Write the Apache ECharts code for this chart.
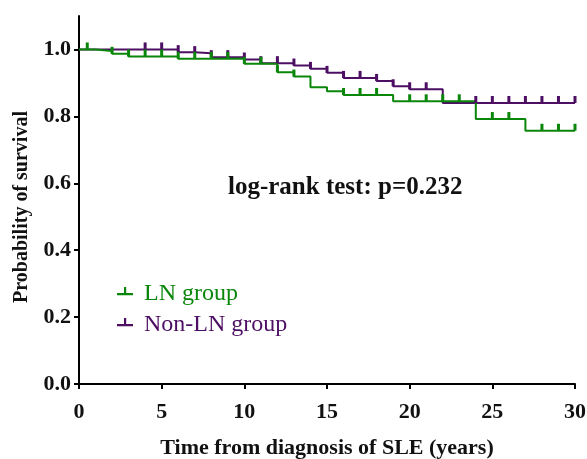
<!DOCTYPE html>
<html>
<head>
<meta charset="utf-8">
<script src="https://cdn.jsdelivr.net/npm/echarts@6/dist/echarts.min.js"></script>
<style>
  html, body { margin: 0; padding: 0; background: #ffffff; }
  #chart { width: 587px; height: 459px; }
</style>
</head>
<body>
<div id="chart"></div>
<script>
// Kaplan-Meier survival estimates (time in years, survival after each event time)
var lnTimes = [0, 1, 2, 3, 6, 10, 12, 13, 14, 15, 16, 19, 24, 27, 30];
var lnSurvival = [1.0, 0.995, 0.987, 0.979, 0.972, 0.957, 0.932, 0.919, 0.887, 0.875, 0.864, 0.845, 0.792, 0.757, 0.757];
var lnCensored = [0.5, 2, 3, 4, 5, 6, 7, 8, 9, 10, 11, 12, 13, 16, 17, 18, 20, 21, 22, 23, 25, 26, 28, 29, 30];

var nonLnTimes = [0, 6, 7, 8, 10, 11, 13, 14, 15, 16, 18, 19, 20, 22, 30];
var nonLnSurvival = [1.0, 0.992, 0.989, 0.977, 0.970, 0.959, 0.952, 0.942, 0.930, 0.915, 0.906, 0.890, 0.881, 0.840, 0.840];
var nonLnCensored = [4, 5, 6, 7, 8, 9, 10, 11, 12, 13, 14, 15, 16, 17, 18, 19, 20, 21, 24, 25, 26, 27, 28, 29, 30];

var xTicks = [0, 5, 10, 15, 20, 25, 30];
var yTicks = [0, 0.2, 0.4, 0.6, 0.8, 1.0];

var groupNames = ['LN group', 'Non-LN group'];
var lnColor = '#0a860a';
var nonLnColor = '#4d0f63';
var fontFamily = '"Liberation Serif", "Times New Roman", serif';

function stepPoints(times, surv) {
  return times.map(function (t, i) { return [t, surv[i]]; });
}

// survival value in effect at time t (step function)
function survivalAt(times, surv, t) {
  var v = surv[0];
  for (var i = 0; i < times.length; i++) {
    if (times[i] <= t) v = surv[i];
  }
  return v;
}

function censorPoints(times, surv, cens) {
  return cens.map(function (t) { return [t, survivalAt(times, surv, t)]; });
}

// inverted-T censor glyph; the tiny speck at the bottom keeps the bar vertically centred
var legendIcon = 'path://M0,6 L16,6 L16,8.2 L0,8.2 Z M7,0 L9.2,0 L9.2,6 L7,6 Z M8,13.95 L8.05,14 L8,14 Z';

var chart = echarts.init(document.getElementById('chart'), null, { renderer: 'canvas' });

chart.setOption({
  animation: false,
  backgroundColor: '#ffffff',
  grid: { left: 79, right: 12, top: 16, bottom: 75, containLabel: false, outerBoundsMode: 'none' },
  xAxis: {
    type: 'value',
    min: 0, max: 30, interval: 5,
    name: 'Time from diagnosis of SLE (years)',
    nameLocation: 'middle',
    nameGap: 53,
    nameTextStyle: { fontFamily: fontFamily, fontWeight: 'bold', fontSize: 22, color: '#111' },
    axisLine: { lineStyle: { color: '#000', width: 2 } },
    axisTick: { length: 5, lineStyle: { color: '#000', width: 2 } },
    axisLabel: {
      margin: 17, fontFamily: fontFamily, fontWeight: 'bold', fontSize: 22, color: '#111'
    },
    splitLine: { show: false }
  },
  yAxis: {
    type: 'value',
    min: 0, max: 1.1,
    axisLine: { show: true, lineStyle: { color: '#000', width: 2 } },
    axisTick: { show: true, length: 5, customValues: yTicks, lineStyle: { color: '#000', width: 2 } },
    axisLabel: {
      customValues: yTicks,
      margin: 8, fontFamily: fontFamily, fontWeight: 'bold', fontSize: 22, color: '#111',
      formatter: function (v) { return v.toFixed(1); }
    },
    splitLine: { show: false }
  },
  legend: {
    orient: 'vertical',
    left: 117, top: 282,
    padding: 0,
    itemWidth: 16, itemHeight: 14,
    itemGap: 7,
    textStyle: { fontFamily: fontFamily, fontSize: 24, padding: [0, 0, 0, 6] },
    data: [
      { name: groupNames[0], icon: legendIcon, textStyle: { color: lnColor } },
      { name: groupNames[1], icon: legendIcon, textStyle: { color: nonLnColor } }
    ]
  },
  graphic: [
    {
      type: 'text',
      left: 228, top: 175,
      style: {
        text: 'log-rank test: p=0.232',
        font: 'bold 25px ' + fontFamily,
        fill: '#111'
      }
    },
    {
      type: 'text',
      x: 22, y: 207,
      rotation: Math.PI / 2,
      style: {
        text: 'Probability of survival',
        font: 'bold 20px ' + fontFamily,
        fill: '#111',
        align: 'center',
        verticalAlign: 'middle'
      }
    }
  ],
  series: [
    {
      name: groupNames[1], type: 'line', step: 'end', showSymbol: false,
      color: nonLnColor,
      lineStyle: { color: nonLnColor, width: 2 },
      data: stepPoints(nonLnTimes, nonLnSurvival), z: 2
    },
    {
      name: groupNames[0], type: 'line', step: 'end', showSymbol: false,
      color: lnColor,
      lineStyle: { color: lnColor, width: 2 },
      data: stepPoints(lnTimes, lnSurvival), z: 3
    },
    {
      name: groupNames[1] + ' censored', type: 'scatter',
      symbol: 'rect', symbolSize: [3, 7], symbolOffset: [0, -3.5],
      itemStyle: { color: nonLnColor, opacity: 1 },
      data: censorPoints(nonLnTimes, nonLnSurvival, nonLnCensored), z: 4
    },
    {
      name: groupNames[0] + ' censored', type: 'scatter',
      symbol: 'rect', symbolSize: [3, 7], symbolOffset: [0, -3.5],
      itemStyle: { color: lnColor, opacity: 1 },
      data: censorPoints(lnTimes, lnSurvival, lnCensored), z: 5
    }
  ]
});
</script>
</body>
</html>
